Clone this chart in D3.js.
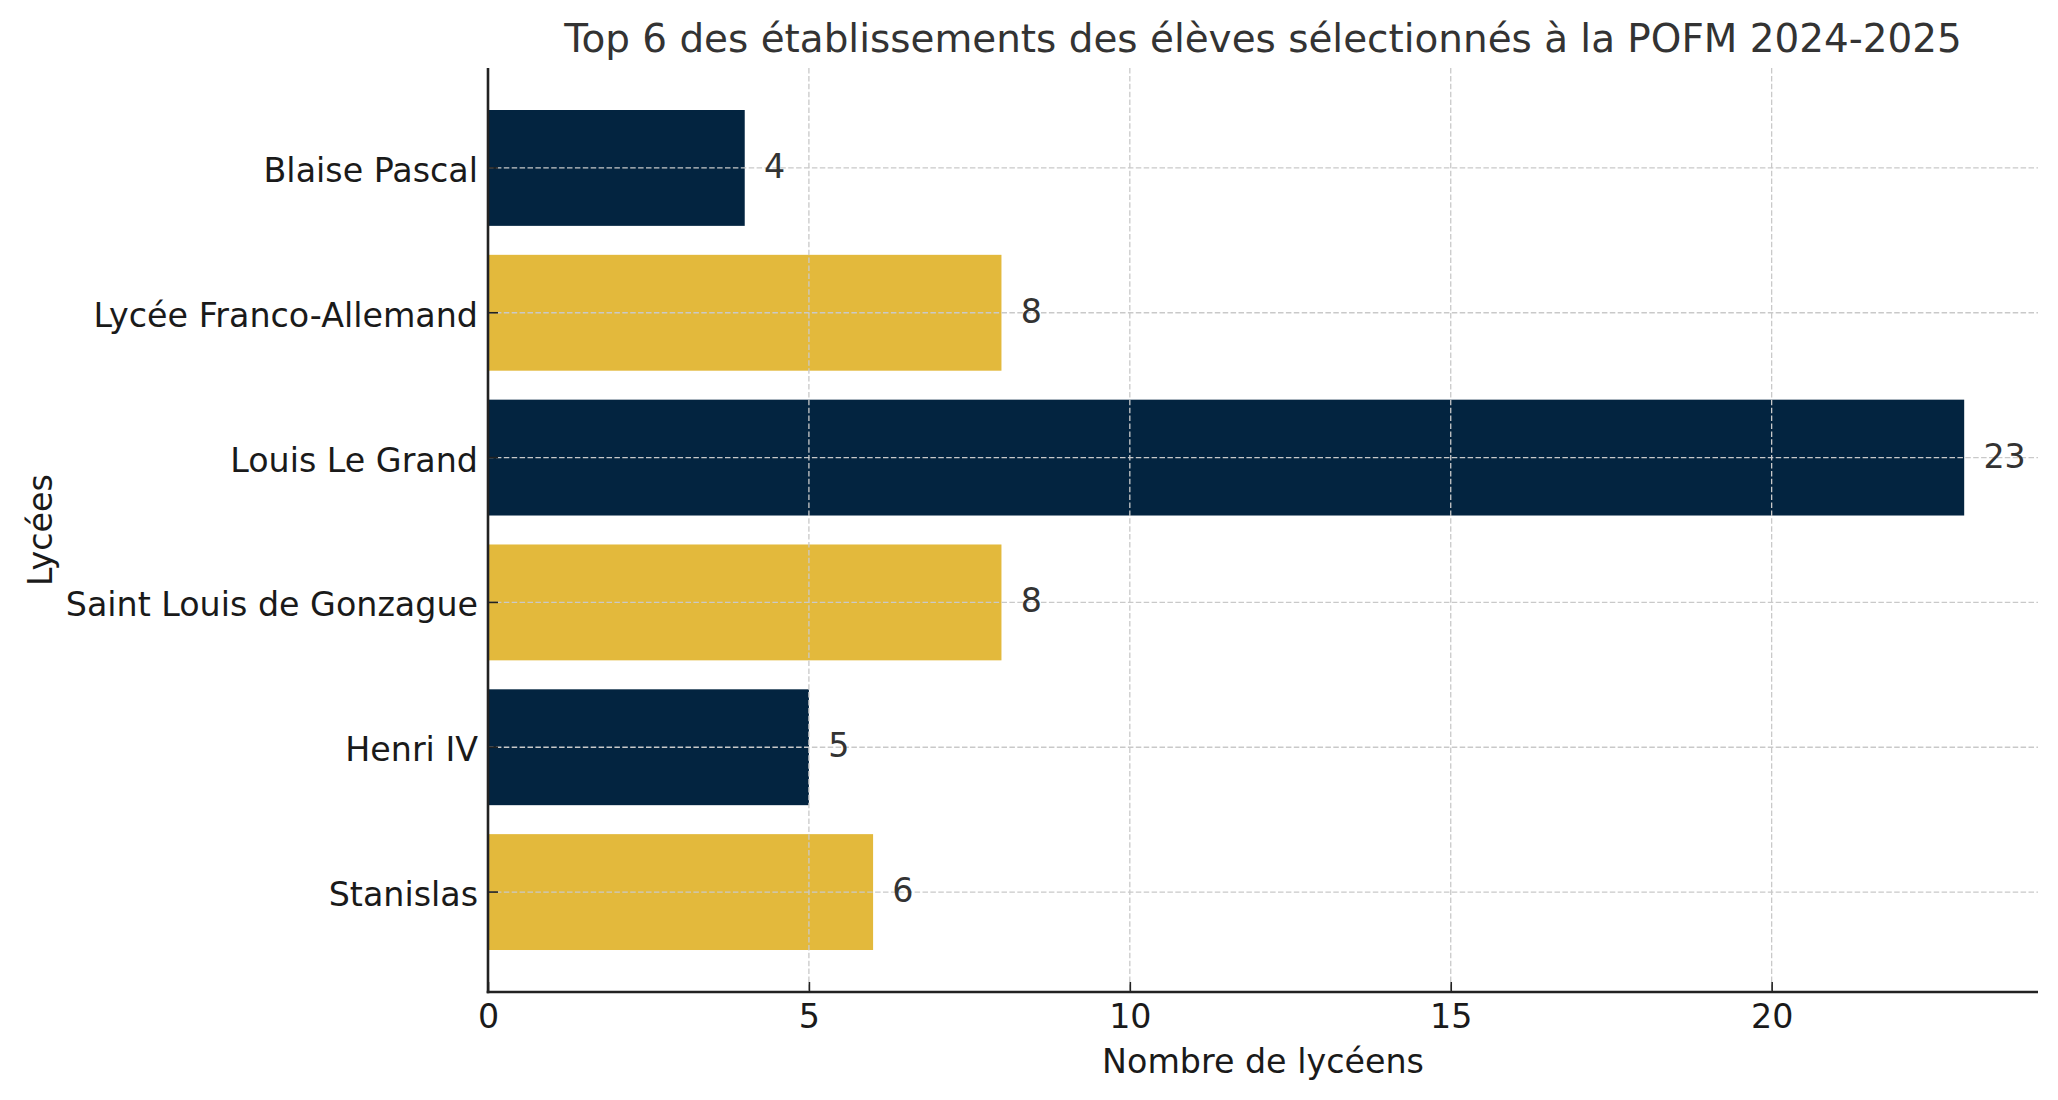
<!DOCTYPE html>
<html>
<head>
<meta charset="utf-8">
<script src="https://cdn.jsdelivr.net/npm/d3@7"></script>
<style>
html,body{margin:0;padding:0;background:#fff;}
svg{display:block;font-family:"DejaVu Sans",sans-serif;}
</style>
</head>
<body>
<script>
const categories = ["Blaise Pascal","Lycée Franco-Allemand","Louis Le Grand","Saint Louis de Gonzague","Henri IV","Stanislas"];
const values = [4, 8, 23, 8, 5, 6];
const barColors = ["#032440","#E3B93C","#032440","#E3B93C","#032440","#E3B93C"];
const xTicks = [0, 5, 10, 15, 20];
const title = "Top 6 des établissements des élèves sélectionnés à la POFM 2024-2025";
const xLabel = "Nombre de lycéens";
const yLabel = "Lycées";

(function () {
const W = 2058, H = 1100;
const pL = 488, pR = 2038, pT = 68, pB = 992;
const fs = 33.3;

const svg = d3.select("body").append("svg").attr("width", W).attr("height", H);

const x = d3.scaleLinear().domain([0, d3.max(values) * 1.05]).range([pL, pR]);
const y = d3.scaleBand().domain(categories).range([pT, pB]).paddingInner(0.2).paddingOuter(0.29);

// bars
svg.append("g").selectAll("rect").data(categories).join("rect")
  .attr("x", x(0))
  .attr("y", d => y(d))
  .attr("width", (d, i) => x(values[i]) - x(0))
  .attr("height", y.bandwidth())
  .attr("fill", (d, i) => barColors[i]);

// grid (on top of bars)
const grid = svg.append("g").attr("stroke", "#c9c9c9").attr("stroke-width", 1.3).attr("stroke-dasharray", "5.5,2.4");
grid.selectAll("line.v").data(xTicks).join("line").attr("class", "v")
  .attr("x1", d => x(d)).attr("x2", d => x(d)).attr("y1", pT).attr("y2", pB);
grid.selectAll("line.h").data(categories).join("line").attr("class", "h")
  .attr("x1", pL).attr("x2", pR)
  .attr("y1", d => y(d) + y.bandwidth() / 2).attr("y2", d => y(d) + y.bandwidth() / 2);

// value labels
svg.append("g").selectAll("text").data(categories).join("text")
  .attr("x", (d, i) => x(values[i] + 0.3))
  .attr("y", d => y(d) + y.bandwidth() / 2)
  .attr("dy", "0.3em")
  .attr("font-size", fs)
  .attr("fill", "#333")
  .text((d, i) => values[i]);

// axes
const xAxis = svg.append("g").attr("transform", `translate(0,${pB})`)
  .call(d3.axisBottom(x).tickValues(xTicks).tickSize(-10).tickPadding(12).tickSizeOuter(0));
const yAxis = svg.append("g").attr("transform", `translate(${pL},0)`)
  .call(d3.axisLeft(y).tickSize(-10).tickPadding(10).tickSizeOuter(0));
[xAxis, yAxis].forEach(a => {
  a.attr("font-family", null).attr("font-size", null);
  a.selectAll("text").attr("font-size", fs).attr("fill", "#1a1a1a");
  a.selectAll(".tick line").attr("stroke", "#222").attr("stroke-width", 1.6);
  a.select(".domain").attr("stroke", "#222").attr("stroke-width", 2.6);
});
yAxis.selectAll(".tick text").attr("dy", "0.42em");
xAxis.select(".domain").attr("d", `M${pL - 1.3},0H${pR}`);
yAxis.select(".domain").attr("d", `M0,${pT}V${pB + 1.3}`);

// title & labels
svg.append("text").attr("x", (pL + pR) / 2).attr("y", 52)
  .attr("text-anchor", "middle").attr("font-size", 38.9).attr("fill", "#333").text(title);
svg.append("text").attr("x", (pL + pR) / 2).attr("y", 1073)
  .attr("text-anchor", "middle").attr("font-size", fs).attr("fill", "#1a1a1a").text(xLabel);
svg.append("text").attr("transform", `translate(52,${(pT + pB) / 2}) rotate(-90)`)
  .attr("text-anchor", "middle").attr("font-size", fs).attr("fill", "#1a1a1a").text(yLabel);
})();
</script>
</body>
</html>
